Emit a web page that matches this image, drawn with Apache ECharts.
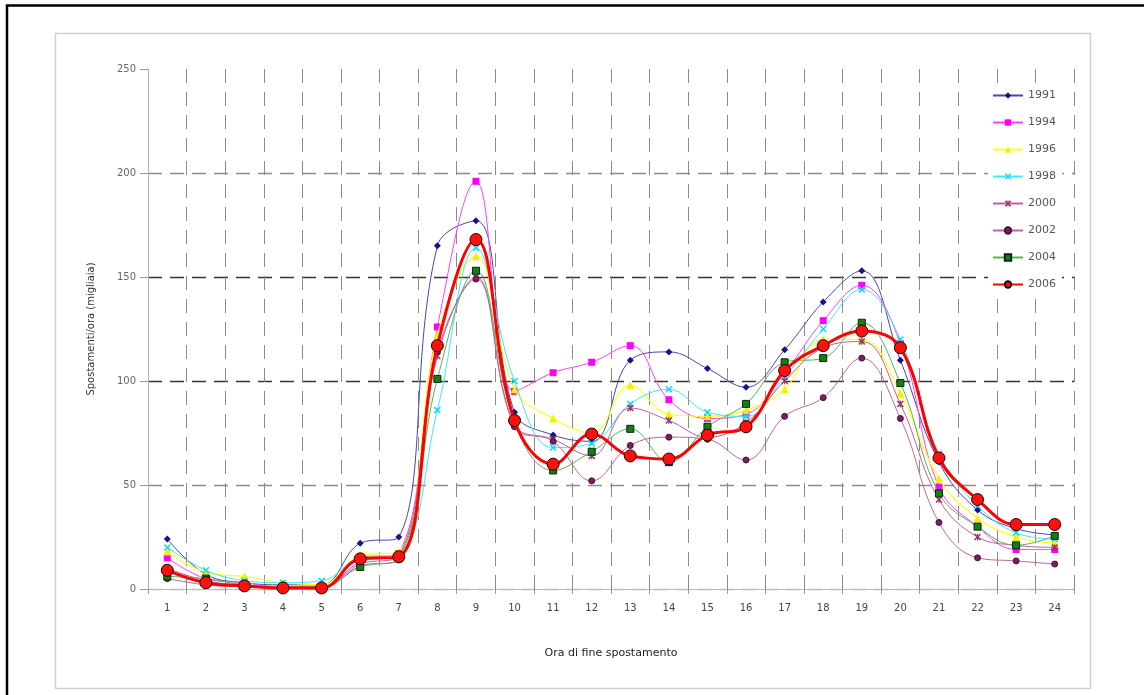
<!DOCTYPE html>
<html>
<head>
<meta charset="utf-8">
<script src="https://cdn.jsdelivr.net/npm/echarts@6/dist/echarts.min.js"></script>
<style>
html,body{margin:0;padding:0;background:#fff;}
#chart{width:1144px;height:695px;}
</style>
</head>
<body>
<div id="chart"></div>
<script>
var hours = ['1','2','3','4','5','6','7','8','9','10','11','12','13','14','15','16','17','18','19','20','21','22','23','24'];
var yTicks = [0, 50, 100, 150, 200, 250];
var years = ['1991','1994','1996','1998','2000','2002','2004','2006'];

var v1991 = [24, 7, 3, 2, 2, 22, 25, 165, 177, 85, 74, 71, 110, 114, 106, 97, 115, 138, 153, 110, 61, 38, 29, 26];
var v1994 = [15, 5, 3, 1, 1, 13, 17, 126, 196, 95, 104, 109, 117, 91, 82, 84, 104, 129, 146, 118, 49, 30, 19, 19];
var v1996 = [18, 8, 6, 3, 2, 16, 18, 122, 160, 96, 82, 75, 98, 84, 83, 86, 96, 120, 120, 94, 53, 34, 25, 22];
var v1998 = [20, 9, 4, 3, 4, 15, 17, 86, 164, 100, 68, 70, 89, 96, 85, 83, 102, 125, 144, 120, 65, 40, 27, 24];
var v2000 = [10, 4, 2, 1, 1, 12, 16, 112, 150, 79, 72, 64, 87, 81, 73, 80, 100, 116, 119, 89, 43, 25, 21, 20];
var v2002 = [5, 2, 1, 0.5, 0.5, 11, 14, 114, 149, 78, 71, 52, 69, 73, 72, 62, 83, 92, 111, 82, 32, 15, 13.5, 12];
var v2004 = [6, 5, 2, 1, 1, 10.6, 15, 101, 153, 80, 57, 66, 77, 61, 78, 89, 109, 111, 128, 99, 46, 30, 21, 25.5];
var v2006 = [9, 3, 1.5, 0.5, 0.5, 14.5, 15.5, 117, 168, 81, 60, 74.5, 64, 62.5, 74, 78, 105, 117, 124, 116, 63, 43, 31, 31];

var xPath = 'path://M0,1.5L1.5,0L5,3.5L8.5,0L10,1.5L6.5,5L10,8.5L8.5,10L5,6.5L1.5,10L0,8.5L3.5,5Z';
var starPath = 'path://M0,1.5L1.5,0L5,3.5L8.5,0L10,1.5L6.5,5L10,8.5L8.5,10L5,6.5L1.5,10L0,8.5L3.5,5Z M4.3,0H5.7V10H4.3Z';

var font = 'DejaVu Sans';

function mk(name, data, lineColor, markColor, symbol, size, width, border, z) {
  return {
    name: name, type: 'line', data: data, smooth: 0.4,
    symbol: symbol, symbolSize: size, showSymbol: true, z: z,
    lineStyle: { color: lineColor, width: width },
    itemStyle: { color: markColor, borderColor: border || markColor, borderWidth: border ? 1 : 0 },
    emphasis: { disabled: true }
  };
}

var series = [
  mk('1991', v1991, '#4848a8', '#14148c', 'diamond', 7, 1, null, 2),
  mk('1994', v1994, '#ff40ff', '#ff00ff', 'rect', 7, 1, null, 3),
  mk('1996', v1996, '#ffff20', '#f0f000', 'triangle', 8, 1.2, null, 4),
  mk('1998', v1998, '#40e8f8', '#10d8f0', xPath, 7, 1, null, 5),
  mk('2000', v2000, '#c0609c', '#993366', starPath, 7, 1, null, 6),
  mk('2002', v2002, '#b86898', '#7a1f5c', 'circle', 6, 1, '#4a1040', 7),
  mk('2004', v2004, '#50b850', '#108010', 'rect', 7, 1, '#102010', 8),
  mk('2006', v2006, '#ff0000', '#ff1010', 'circle', 12, 3, '#200000', 10)
];

var chart = echarts.init(document.getElementById('chart'), null, {renderer: 'canvas'});
chart.setOption({
  animation: false,
  backgroundColor: '#ffffff',
  graphic: [
    { type: 'rect', shape: { x: 7, y: 5.5, width: 1150, height: 710 }, style: { fill: 'none', stroke: '#000', lineWidth: 2.5 }, z: 100 },
    { type: 'rect', shape: { x: 55.5, y: 33.5, width: 1035, height: 655 }, style: { fill: 'none', stroke: '#cfcfd4', lineWidth: 1.5 }, z: 100 }
  ],
  grid: { left: 148, right: 70, top: 69, bottom: 106, containLabel: false },
  legend: {
    orient: 'vertical', left: 988, top: 86,
    data: years,
    itemWidth: 30, itemHeight: 8, itemGap: 16,
    backgroundColor: '#ffffff', padding: [4, 6, 4, 4],
    textStyle: { fontFamily: font, fontSize: 11, color: '#555' }
  },
  xAxis: {
    type: 'category', data: hours, boundaryGap: true,
    name: 'Ora di fine spostamento', nameLocation: 'middle', nameGap: 59,
    nameTextStyle: { fontFamily: font, fontSize: 11, color: '#222' },
    axisLine: { lineStyle: { color: '#bbbbbb', width: 1 } },
    axisTick: { show: true, length: 5, lineStyle: { color: '#999' } },
    axisLabel: { margin: 14, fontFamily: font, fontSize: 10, color: '#444' },
    splitLine: { show: true, interval: 0, lineStyle: { color: '#8a8a8a', type: [14, 9], width: 1 } }
  },
  yAxis: {
    type: 'value', min: 0, max: 250, interval: 50,
    name: 'Spostamenti/ora (migliaia)', nameLocation: 'middle', nameGap: 52, nameRotate: 90,
    nameTextStyle: { fontFamily: font, fontSize: 10, color: '#333' },
    axisLine: { show: true, lineStyle: { color: '#b8b0c0', width: 1 } },
    axisTick: { show: true, length: 8, lineStyle: { color: '#999' } },
    axisLabel: { margin: 12, fontFamily: font, fontSize: 10, color: '#666',
      formatter: function (v) { return yTicks.indexOf(v) >= 0 ? String(v) : ''; } },
    splitLine: { show: true, showMaxLine: false,
      lineStyle: { color: ['#bbbbbb', '#8c8c8c', '#333333', '#333333', '#8c8c8c', '#ffffff'], type: [14, 8], width: 1.4 } }
  },
  series: series
});
</script>
</body>
</html>
